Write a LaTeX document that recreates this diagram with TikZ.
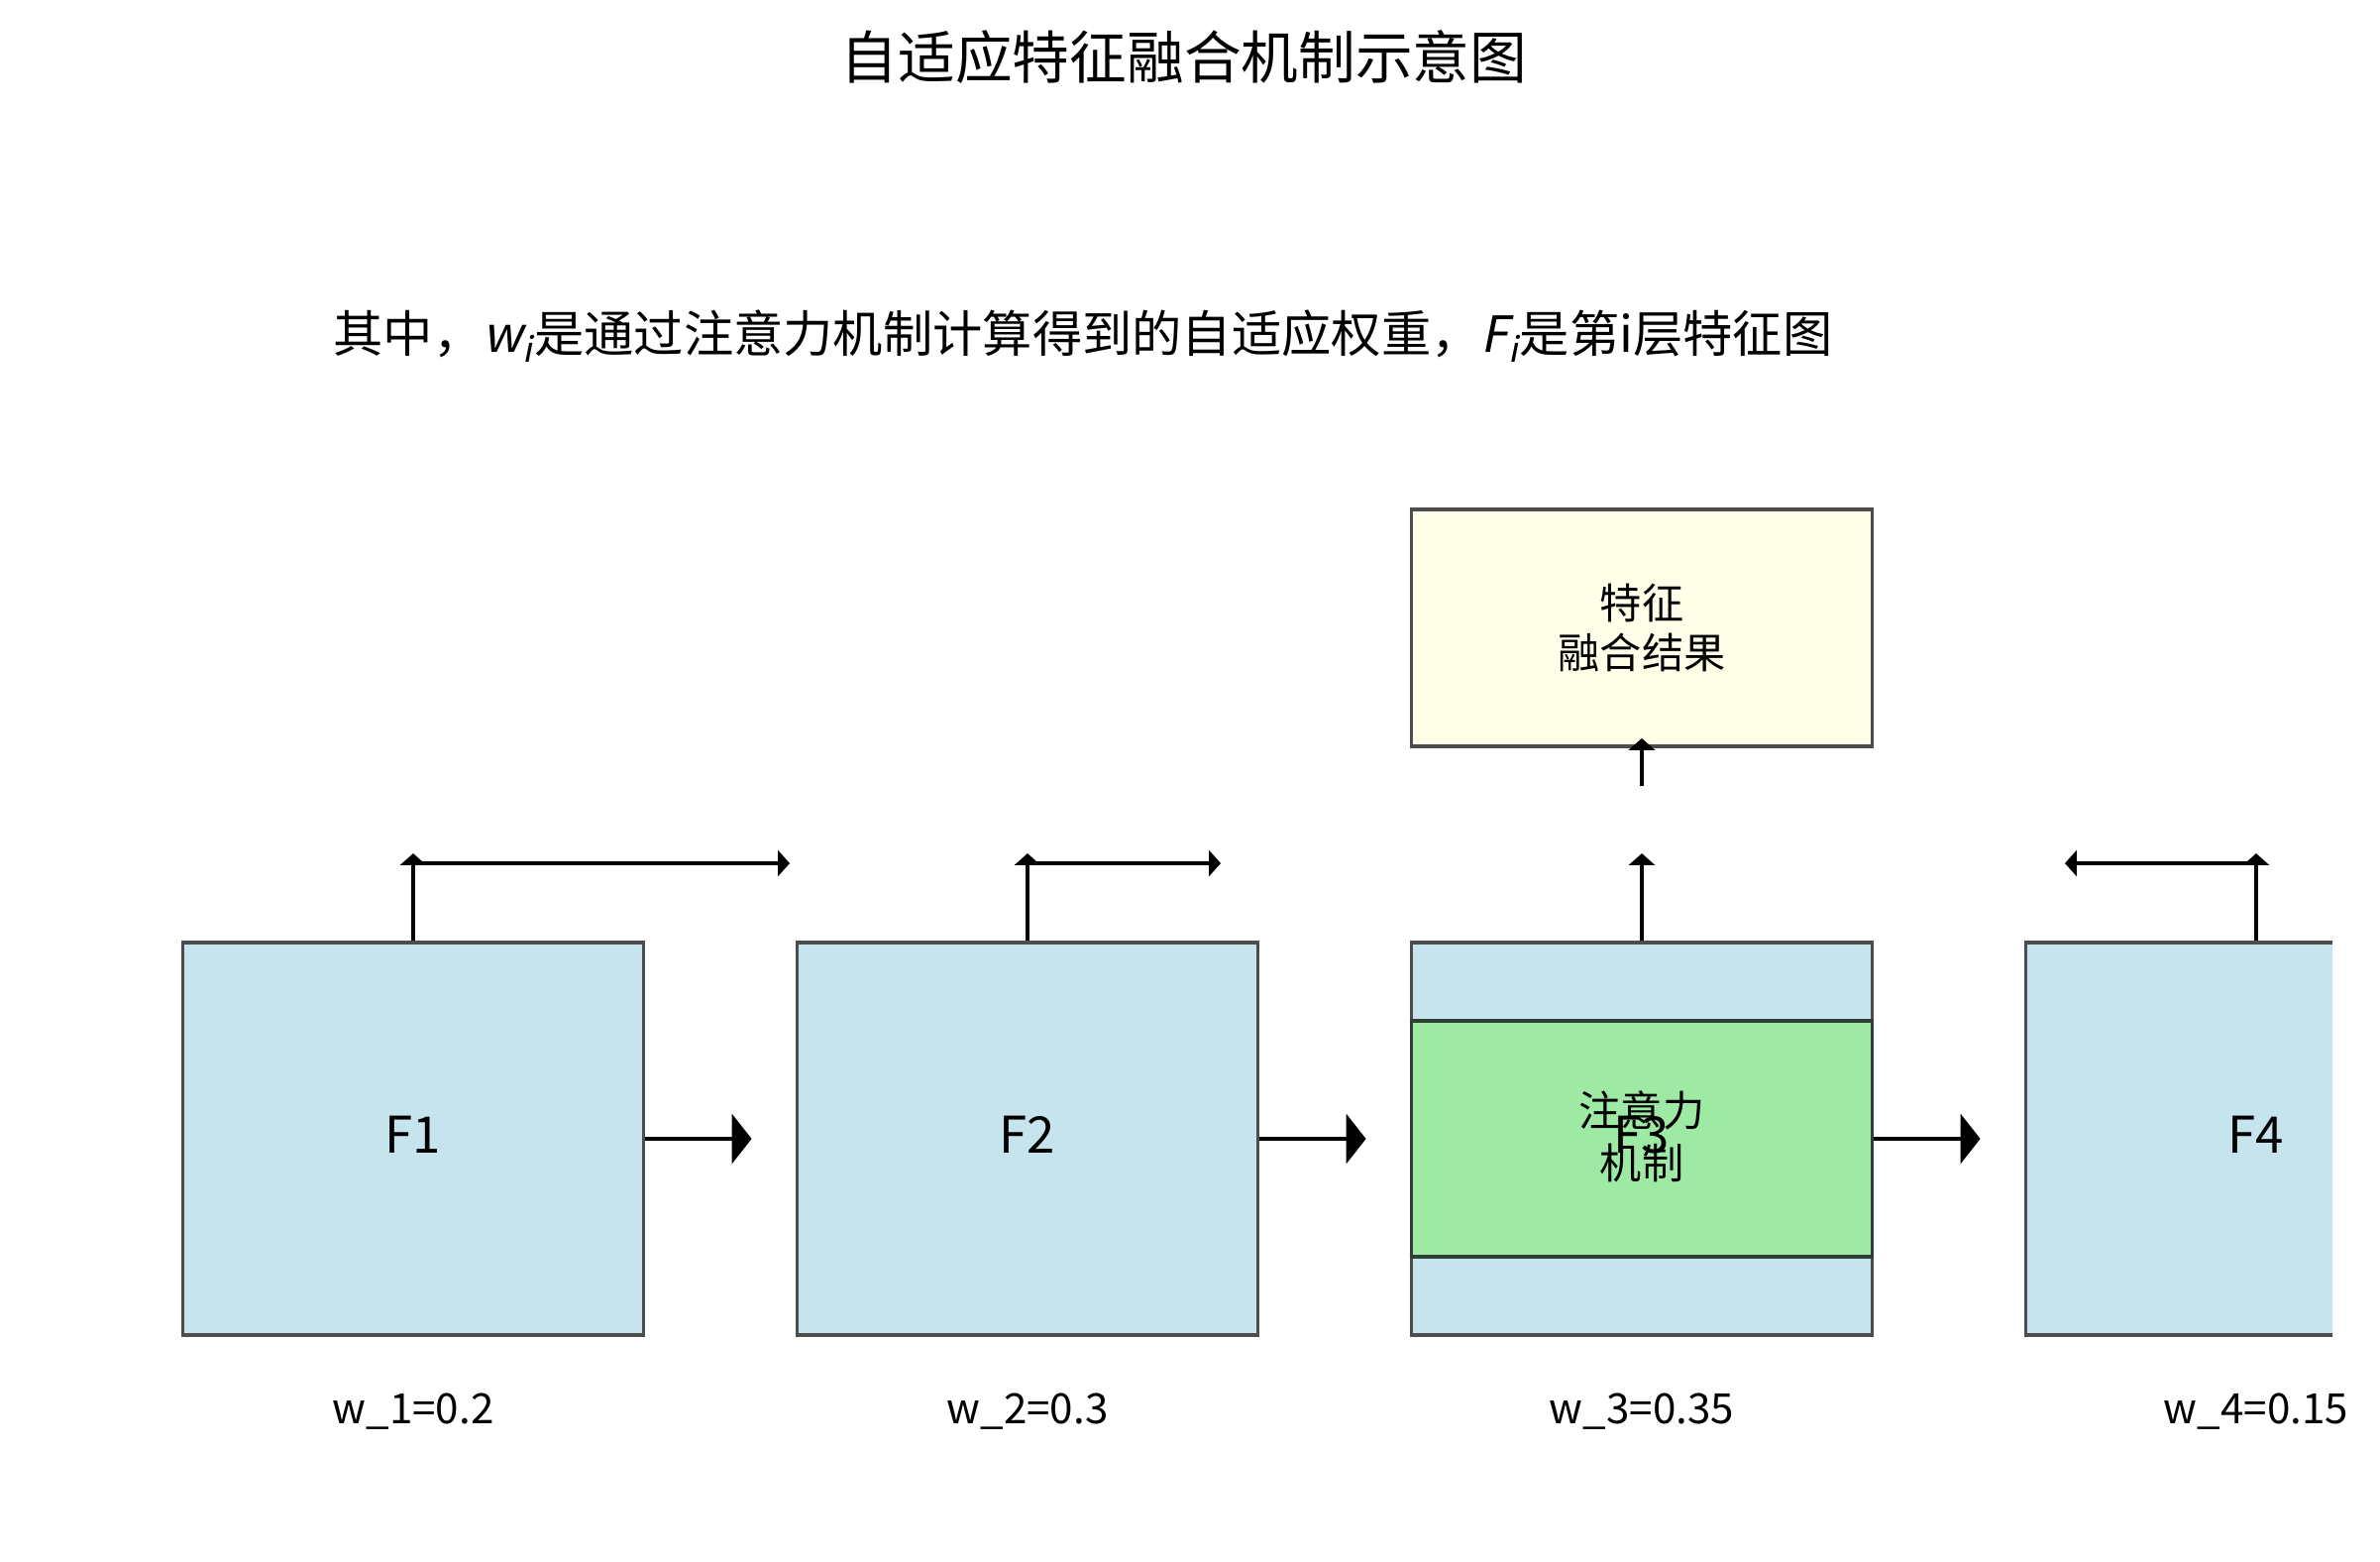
\documentclass[tikz,border=0pt]{standalone}
\usepackage{fontspec}
\setmainfont{Noto Sans CJK SC}[AutoFakeSlant=0.2]
\usetikzlibrary{arrows.meta,calc}
\definecolor{boxblue}{HTML}{C6E4EE}
\definecolor{boxgreen}{HTML}{9EEAA5}
\definecolor{boxyellow}{HTML}{FFFFE9}
\definecolor{edgegray}{HTML}{4D4D4D}
\definecolor{edgedark}{HTML}{2F3F33}
\begin{document}
\begin{tikzpicture}[x=0.01cm,y=-0.01cm,
  feat/.style={draw=edgegray, fill=boxblue, line width=1pt, minimum width=4.65cm, minimum height=3.96cm, inner sep=0pt},
  attn/.style={draw=edgedark, fill=boxgreen, line width=1pt, minimum width=4.65cm, minimum height=2.38cm, inner sep=0pt},
  result/.style={draw=edgegray, fill=boxyellow, line width=1pt, minimum width=4.65cm, minimum height=2.39cm, inner sep=0pt, align=center, font=\fontsize{12}{14.2}\selectfont},
  cjktext/.style={align=center, inner sep=0pt, font=\fontsize{12}{15}\selectfont},
  flabel/.style={font=\fontsize{14.5}{17}\selectfont, anchor=base, inner sep=0pt},
  wlabel/.style={font=\fontsize{12}{14}\selectfont, anchor=base, inner sep=0pt},
  bigarrow/.style={line width=1.3pt, -{Triangle[length=5.7pt,width=14.2pt]}},
  smallarrow/.style={line width=1.3pt, -{Triangle[length=3.4pt,width=7.4pt]}},
  ]
\useasboundingbox (0,0) rectangle (2402,1575);

% titles
\node[font=\fontsize{16.4}{20}\selectfont] (title) at (1195,58) {自适应特征融合机制示意图};
\node[font=\fontsize{14.3}{17}\selectfont] (sub) at (1093,339) {其中，\textit{w}\textsubscript{\textit{i}}是通过注意力机制计算得到的自适应权重，\textit{F}\textsubscript{\textit{i}}是第i层特征图};

% feature boxes (clipped at the axes edge)
\begin{scope}
  \clip (0,0) rectangle (2354,1575);
  \node[feat] (F1) at (417,1149) {};
  \node[feat] (F2) at (1037,1149) {};
  \node[feat] (F3) at (1657,1149) {};
  \node[feat] (F4) at (2277,1149) {};
\end{scope}
\node[attn] (A) at (1657,1149) {};

\node[flabel] (t1) at (417,1163) {F1};
\node[flabel] (t2) at (1037,1163) {F2};
\node[flabel] (t3) at (1657,1163) {F3};
\node[flabel] (t4) at (2277,1163) {F4};
\node[cjktext] (at) at (1657,1147) {注意力\\机制};

\node[wlabel] (w1) at (417,1436) {w\_1=0.2};
\node[wlabel] (w2) at (1037,1436) {w\_2=0.3};
\node[wlabel] (w3) at (1657,1436) {w\_3=0.35};
\node[wlabel] (w4) at (2277,1436) {w\_4=0.15};

% result box
\node[result] (R) at (1657,633.5) {特征\\融合结果};

% horizontal main arrows
\draw[bigarrow] (F1.east) -- ($(F2.west)+(-44,0)$);
\draw[bigarrow] (F2.east) -- ($(F3.west)+(-44,0)$);
\draw[bigarrow] (F3.east) -- ($(F4.west)+(-44,0)$);

% upward branches
\coordinate (u1) at (417,861);
\coordinate (u2) at (1037,861);
\coordinate (u3) at (1657,861);
\coordinate (u4) at (2277,861);
\coordinate (h1s) at (417,871);
\coordinate (h1e) at (797,871);
\coordinate (h2s) at (1037,871);
\coordinate (h2e) at (1232,871);
\coordinate (h4s) at (2277,871);
\coordinate (h4e) at (2084,871);
\coordinate (r0) at (1657,793);

\draw[smallarrow] (F1.north) -- (u1);
\draw[smallarrow] (h1s) -- (h1e);
\draw[smallarrow] (F2.north) -- (u2);
\draw[smallarrow] (h2s) -- (h2e);
\draw[smallarrow] (F3.north) -- (u3);
\draw[smallarrow] (F4.north) -- (u4);
\draw[smallarrow] (h4s) -- (h4e);
\draw[smallarrow] (r0) -- ($(R.south)+(0,-10)$);
\end{tikzpicture}
\end{document}
